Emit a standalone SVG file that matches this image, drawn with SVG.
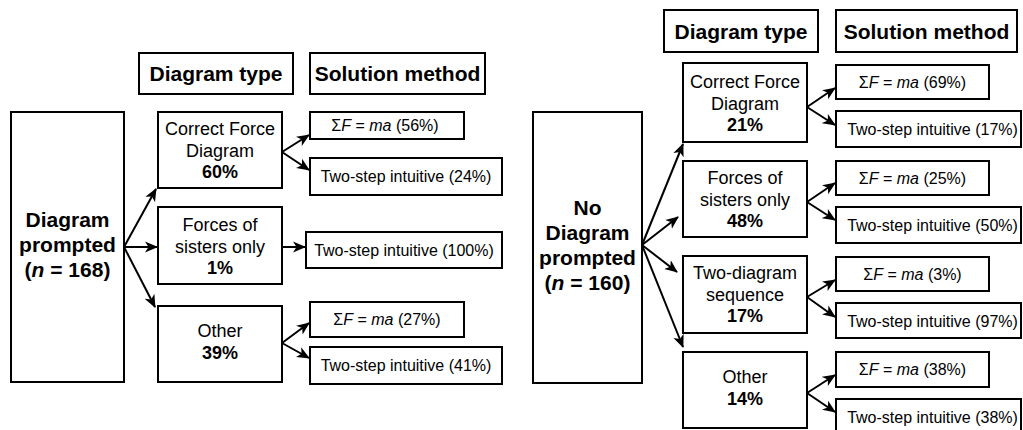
<svg xmlns="http://www.w3.org/2000/svg" width="1023" height="430" viewBox="0 0 1023 430">
<style>
.box{fill:#fff;stroke:#000;stroke-width:2}
text{font-family:"Liberation Sans",Arial,sans-serif;fill:#000;text-anchor:middle}
.hd{font-size:21px;font-weight:bold}
.big{font-size:21px;font-weight:bold}
.nd{font-size:18px}
.b{font-weight:bold}
.sm{font-size:16px}
.i{font-style:italic}
.con line{stroke:#000;stroke-width:2;marker-end:url(#ah)}
</style>
<defs>
<marker id="ah" markerUnits="userSpaceOnUse" markerWidth="13" markerHeight="13" viewBox="0 0 13 13" refX="12" refY="6.5" orient="auto">
<path d="M0,1 L13,6.5 L0,12 L3.5,6.5 z" fill="#000"/>
</marker>
</defs>
<rect width="1023" height="430" fill="#fff"/>

<!-- LEFT PANEL -->
<g id="hdr-type-left"><rect class="box" x="139" y="53" width="154" height="41"/><text class="hd" x="216" y="81">Diagram type</text></g>
<g id="hdr-method-left"><rect class="box" x="310" y="53" width="175" height="41"/><text class="hd" x="397.5" y="81">Solution method</text></g>
<g id="root-left"><rect class="box" x="11" y="112" width="113" height="270"/>
<text class="big" x="67.5" y="227">Diagram</text>
<text class="big" x="67.5" y="252">prompted</text>
<text class="big" x="67.5" y="277">(<tspan class="i">n</tspan> = 168)</text></g>
<g id="l-cfd"><rect class="box" x="158" y="112" width="124" height="76"/>
<text class="nd" x="220" y="135">Correct Force</text><text class="nd" x="220" y="157">Diagram</text><text class="nd b" x="220" y="178">60%</text></g>
<g id="l-fso"><rect class="box" x="158" y="207" width="124" height="77"/>
<text class="nd" x="220" y="231">Forces of</text><text class="nd" x="220" y="253">sisters only</text><text class="nd b" x="220" y="274">1%</text></g>
<g id="l-oth"><rect class="box" x="158" y="306" width="124" height="76"/>
<text class="nd" x="220" y="337">Other</text><text class="nd b" x="220" y="359">39%</text></g>
<g id="l-cfd-sf"><rect class="box" x="310" y="112" width="154" height="27"/><text class="sm" x="385" y="131">Σ<tspan class="i">F</tspan> = <tspan class="i">ma</tspan> (56%)</text></g>
<g id="l-cfd-ts"><rect class="box" x="310" y="158" width="192" height="37"/><text class="sm" x="406" y="182">Two-step intuitive (24%)</text></g>
<g id="l-fso-ts"><rect class="box" x="306" y="232" width="196" height="36"/><text class="sm" x="404" y="256">Two-step intuitive (100%)</text></g>
<g id="l-oth-sf"><rect class="box" x="310" y="302" width="154" height="35"/><text class="sm" x="387" y="325">Σ<tspan class="i">F</tspan> = <tspan class="i">ma</tspan> (27%)</text></g>
<g id="l-oth-ts"><rect class="box" x="310" y="347" width="192" height="37"/><text class="sm" x="406" y="371">Two-step intuitive (41%)</text></g>

<!-- RIGHT PANEL -->
<g id="hdr-type-right"><rect class="box" x="664" y="10" width="154" height="42"/><text class="hd" x="741" y="39">Diagram type</text></g>
<g id="hdr-method-right"><rect class="box" x="836" y="10" width="181" height="42"/><text class="hd" x="926.5" y="39">Solution method</text></g>
<g id="root-right"><rect class="box" x="533" y="112" width="109" height="271"/>
<text class="big" x="587.5" y="215">No</text>
<text class="big" x="587.5" y="240">Diagram</text>
<text class="big" x="587.5" y="265">prompted</text>
<text class="big" x="587.5" y="290">(<tspan class="i">n</tspan> = 160)</text></g>
<g id="r-cfd"><rect class="box" x="683" y="63" width="124" height="79"/>
<text class="nd" x="745" y="88">Correct Force</text><text class="nd" x="745" y="110">Diagram</text><text class="nd b" x="745" y="131">21%</text></g>
<g id="r-fso"><rect class="box" x="683" y="161" width="124" height="76"/>
<text class="nd" x="745" y="184">Forces of</text><text class="nd" x="745" y="206">sisters only</text><text class="nd b" x="745" y="227">48%</text></g>
<g id="r-tds"><rect class="box" x="683" y="256" width="124" height="77"/>
<text class="nd" x="745" y="279">Two-diagram</text><text class="nd" x="745" y="301">sequence</text><text class="nd b" x="745" y="322">17%</text></g>
<g id="r-oth"><rect class="box" x="683" y="352" width="124" height="76"/>
<text class="nd" x="745" y="383">Other</text><text class="nd b" x="745" y="405">14%</text></g>
<g id="r-cfd-sf"><rect class="box" x="836" y="65" width="153" height="34"/><text class="sm" x="912.5" y="88">Σ<tspan class="i">F</tspan> = <tspan class="i">ma</tspan> (69%)</text></g>
<g id="r-cfd-ts"><rect class="box" x="836" y="111" width="185" height="36"/><text class="sm" x="932.5" y="135">Two-step intuitive (17%)</text></g>
<g id="r-fso-sf"><rect class="box" x="836" y="161" width="153" height="34"/><text class="sm" x="912.5" y="184">Σ<tspan class="i">F</tspan> = <tspan class="i">ma</tspan> (25%)</text></g>
<g id="r-fso-ts"><rect class="box" x="836" y="207" width="185" height="36"/><text class="sm" x="932.5" y="231">Two-step intuitive (50%)</text></g>
<g id="r-tds-sf"><rect class="box" x="836" y="257" width="153" height="34"/><text class="sm" x="912.5" y="280">Σ<tspan class="i">F</tspan> = <tspan class="i">ma</tspan> (3%)</text></g>
<g id="r-tds-ts"><rect class="box" x="836" y="303" width="185" height="35"/><text class="sm" x="932.5" y="327">Two-step intuitive (97%)</text></g>
<g id="r-oth-sf"><rect class="box" x="836" y="352" width="153" height="35"/><text class="sm" x="912.5" y="375">Σ<tspan class="i">F</tspan> = <tspan class="i">ma</tspan> (38%)</text></g>
<g id="r-oth-ts"><rect class="box" x="836" y="399" width="185" height="40"/><text class="sm" x="932.5" y="423">Two-step intuitive (38%)</text></g>

<g id="connectors" class="con">
<line x1="124" y1="247" x2="156" y2="189"/>
<line x1="124" y1="247" x2="157" y2="247"/>
<line x1="124" y1="247" x2="155" y2="307"/>
<line x1="282" y1="152" x2="309" y2="135"/>
<line x1="282" y1="152" x2="309" y2="170"/>
<line x1="282" y1="247" x2="305" y2="247"/>
<line x1="282" y1="343" x2="309" y2="323"/>
<line x1="282" y1="343" x2="309" y2="358"/>
<line x1="642" y1="245" x2="683" y2="144"/>
<line x1="642" y1="245" x2="678" y2="217"/>
<line x1="642" y1="245" x2="677" y2="272"/>
<line x1="642" y1="245" x2="683" y2="347"/>
<line x1="807" y1="107" x2="835" y2="88"/>
<line x1="807" y1="107" x2="835" y2="125"/>
<line x1="807" y1="202" x2="835" y2="183"/>
<line x1="807" y1="202" x2="835" y2="220"/>
<line x1="807" y1="297" x2="835" y2="280"/>
<line x1="807" y1="297" x2="835" y2="317"/>
<line x1="807" y1="393" x2="835" y2="375"/>
<line x1="807" y1="393" x2="835" y2="412"/>
</g>
</svg>
